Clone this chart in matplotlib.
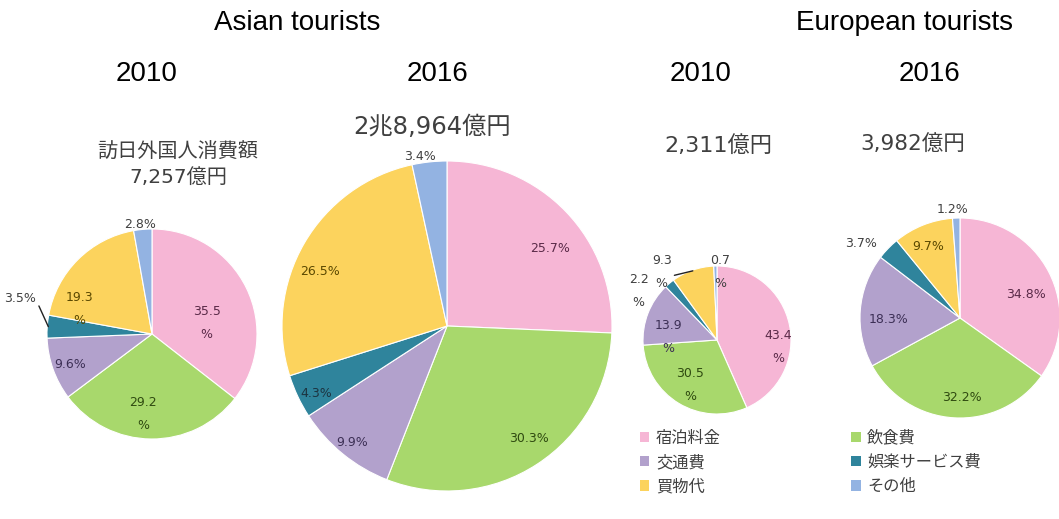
import numpy as np
import matplotlib.pyplot as plt
from matplotlib.patches import Patch

plt.rcParams['font.family'] = ['DejaVu Sans', 'Noto Sans CJK JP']

# --- data -----------------------------------------------------------------
categories = ['宿泊料金', '飲食費', '交通費', '娯楽サービス費', '買物代', 'その他']

asia_2010 = [35.5, 29.2, 9.6, 3.5, 19.3, 2.8]
asia_2016 = [25.7, 30.3, 9.9, 4.3, 26.5, 3.4]
europe_2010 = [43.4, 30.5, 13.9, 2.2, 9.3, 0.7]
europe_2016 = [34.8, 32.2, 18.3, 3.7, 9.7, 1.2]

totals = ['訪日外国人消費額\n7,257億円', '2兆8,964億円', '2,311億円', '3,982億円']
years = ['2010', '2016', '2010', '2016']
groups = ['Asian tourists', 'European tourists']

# label texts (the original wraps some "%" onto a second line)
labels_a10 = ['35.5\n%', '29.2\n%', '9.6%', '3.5%', '19.3\n%', '2.8%']
labels_a16 = ['25.7%', '30.3%', '9.9%', '4.3%', '26.5%', '3.4%']
labels_e10 = ['43.4\n%', '30.5\n%', '13.9\n%', '2.2\n%', '9.3\n%', '0.7\n%']
labels_e16 = ['34.8%', '32.2%', '18.3%', '3.7%', '9.7%', '1.2%']

# --- style ----------------------------------------------------------------
colors = ['#f6b6d5', '#a8d86c', '#b2a1cc', '#2f849c', '#fcd35d', '#93b3e2']
text_colors = ['#5a2a48', '#2f4a10', '#3c2f55', '#1c3340', '#5a4800', '#404040']

# pie centre (px) and radius (px) in a 1059x519 canvas
W, H = 1059, 519
pies = [
    dict(vals=asia_2010, labels=labels_a10, cx=152, cy=334, r=105,
         lr=[0.53, 0.77, 0.83, 1.30, 0.73, 1.05],
         shift=[-15, -6, 1, -11, 26, 1], leader=[3]),
    dict(vals=asia_2016, labels=labels_a16, cx=447, cy=326, r=165,
         lr=[0.78, 0.84, 0.91, 0.89, 0.84, 1.04],
         shift=[-7, 3, 0, 2, 7, 3], leader=[]),
    dict(vals=europe_2010, labels=labels_e10, cx=717, cy=340, r=74,
         lr=[0.83, 0.71, 0.66, 1.25, 1.18, 0.92],
         shift=[-18, 0, 18, 18, 20, -4], leader=[4]),
    dict(vals=europe_2016, labels=labels_e16, cx=960, cy=318, r=100,
         lr=[0.70, 0.80, 0.71, 1.24, 0.78, 1.09],
         shift=[-8, 5, 6, 7, 2, 2], leader=[]),
]

fig = plt.figure(figsize=(W / 100, H / 100), dpi=100)
fig.patch.set_facecolor('white')

for p in pies:
    r = p['r']
    ax = fig.add_axes([(p['cx'] - r) / W, (H - p['cy'] - r) / H, 2 * r / W, 2 * r / H])
    vals = np.array(p['vals'])
    ax.pie(vals, colors=colors, startangle=90, counterclock=False,
           radius=1, wedgeprops=dict(edgecolor='white', linewidth=0.8))
    ax.set_xlim(-1, 1)
    ax.set_ylim(-1, 1)
    ax.set_aspect('auto')
    ax.axis('off')

    frac = np.cumsum(vals) / vals.sum()
    mids = 90 - 360 * (frac - vals / vals.sum() / 2)
    for i, lab in enumerate(p['labels']):
        ang = np.deg2rad(mids[i] + p['shift'][i])
        d = p['lr'][i]
        col = '#404040' if d > 1.0 else text_colors[i]
        tx, ty = d * np.cos(ang), d * np.sin(ang)
        if i in p['leader']:
            ma = np.deg2rad(mids[i])
            ax.annotate(lab, xy=(0.99 * np.cos(ma), 0.99 * np.sin(ma)), xytext=(tx, ty),
                        ha='center', va='center', fontsize=9, color=col,
                        linespacing=2.0, annotation_clip=False,
                        arrowprops=dict(arrowstyle='-', color='#222222', lw=1.0,
                                        relpos=(1.0, 0.4), shrinkA=0, shrinkB=0))
        else:
            ax.text(tx, ty, lab, ha='center', va='center', fontsize=9, color=col,
                    linespacing=2.0)

# headings
fig.text(297 / W, 1 - 23 / H, groups[0], ha='center', va='center', fontsize=20,
         family='Liberation Sans')
fig.text(905 / W, 1 - 23 / H, groups[1], ha='center', va='center', fontsize=20,
         family='Liberation Sans')
year_x = [147, 437, 701, 929]
for x, y in zip(year_x, years):
    fig.text(x / W, 1 - 74 / H, y, ha='center', va='center', fontsize=20,
             family='Liberation Sans')

total_xy = [(178, 165), (432, 127), (718, 145), (913, 145)]
total_size = [14.5, 17.5, 16, 15.5]
for (x, y), t, s in zip(total_xy, totals, total_size):
    fig.text(x / W, 1 - y / H, t, ha='center', va='center', fontsize=s,
             color='#404040', family=['DejaVu Sans', 'Noto Sans CJK JP'],
             linespacing=1.45)

# legend, filled row by row like the original
order = [0, 2, 4, 1, 3, 5]
handles = [Patch(facecolor=colors[i], edgecolor='none') for i in order]
fig.legend(handles, [categories[i] for i in order], ncol=2,
           loc='upper left', bbox_to_anchor=(625 / W, 1 - 415 / H),
           frameon=False, handlelength=0.6, handleheight=0.6, handletextpad=0.4,
           columnspacing=8.0, labelspacing=0.45,
           prop={'family': 'Noto Sans CJK JP', 'size': 11.7}, labelcolor='#404040')

fig.savefig('out.png', dpi=100, facecolor='white')
